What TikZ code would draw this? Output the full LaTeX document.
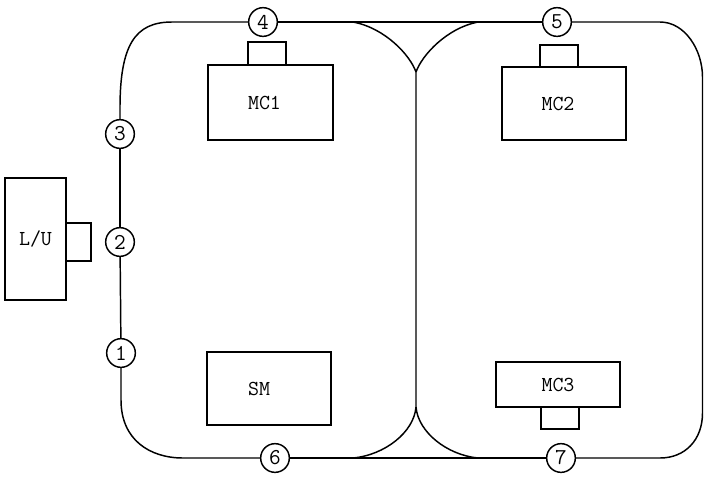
\documentclass[tikz,border=0pt]{standalone}
\usepackage{fontspec}
\begin{document}
\begin{tikzpicture}[x=0.75pt,y=-0.75pt,line width=1.1pt,
  port/.style={circle,draw,minimum size=21.5pt,inner sep=0pt,font=\ttfamily\fontsize{17}{17}\selectfont},
  unit/.style={draw,rectangle,inner sep=0pt,font=\ttfamily\fontsize{16}{18}\selectfont},
  tab/.style={draw,rectangle,inner sep=0pt}]
\useasboundingbox (0,0) rectangle (704,476);
% machines
\node[unit,minimum width=93.75pt,minimum height=56.25pt] (mc1) at (270.5,102.5) {\hspace*{-9pt}MC1};
\node[tab,minimum width=28.5pt,minimum height=17.25pt] (mc1t) at (267,53.5) {};
\node[unit,minimum width=93pt,minimum height=54.75pt] (mc2) at (564,103.5) {\hspace*{-9pt}MC2};
\node[tab,minimum width=28.5pt,minimum height=16.5pt] (mc2t) at (559,56) {};
\node[unit,minimum width=93pt,minimum height=33.75pt] (mc3) at (558,384.5) {MC3};
\node[tab,minimum width=28.5pt,minimum height=16.5pt] (mc3t) at (560,418) {};
\node[unit,minimum width=93pt,minimum height=54.75pt] (sm) at (269,388.5) {\hspace*{-15pt}SM};
\node[unit,minimum width=45.75pt,minimum height=91.5pt] (lu) at (35.5,239) {L/U};
\node[tab,minimum width=18.75pt,minimum height=28.5pt] (lut) at (78.5,242) {};
% ports
\node[port] (c1) at (121,353) {1};
\node[port] (c2) at (120,242) {2};
\node[port] (c3) at (120,134) {3};
\node[port] (c4) at (263,22) {4};
\node[port] (c5) at (557,22) {5};
\node[port] (c6) at (275,458) {6};
\node[port] (c7) at (561,458) {7};
% corner coordinates
\coordinate (tl1) at (120,108);
\coordinate (tl2) at (172,22);
\coordinate (bl1) at (121,400);
\coordinate (bl2) at (183,458);
\coordinate (tr1) at (660,22);
\coordinate (tr2) at (702.5,77);
\coordinate (br1) at (702.5,413);
\coordinate (br2) at (660,458);
\coordinate (jt1) at (353,22);
\coordinate (jt2) at (478,22);
\coordinate (jtop) at (416,72);
\coordinate (jbot) at (416,407);
\coordinate (jb1) at (353,458);
\coordinate (jb2) at (478,458);
% track
\draw (c1) -- (c2);
\draw (c2) -- (c3);
\draw (c3.north) -- (tl1) .. controls (120,45) and (135,22) .. (tl2) -- (c4.west);
\draw (c4) -- (c5);
\draw (c5.east) -- (tr1) .. controls (685,22) and (702.5,50) .. (tr2) -- (br1)
  .. controls (702.5,440) and (685,458) .. (br2) -- (c7.east);
\draw (c7) -- (c6);
\draw (c6.west) -- (bl2) .. controls (150,458) and (121,440) .. (bl1) -- (c1.south);
\draw (jt1) .. controls (385,28) and (410,55) .. (jtop) -- (jbot)
  .. controls (414,432) and (385,455) .. (jb1);
\draw (jt2) .. controls (447,28) and (422,55) .. (jtop);
\draw (jbot) .. controls (418,432) and (447,455) .. (jb2);
\end{tikzpicture}
\end{document}
